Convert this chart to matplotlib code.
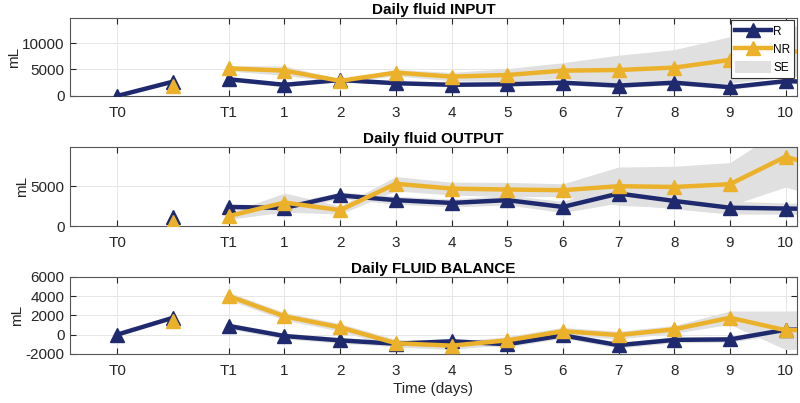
import numpy as np
import matplotlib
matplotlib.use("Agg")
import matplotlib.pyplot as plt
from matplotlib.patches import Patch
from matplotlib.lines import Line2D

# x positions: T0, unlabeled admission point, then T1 and days 1..11
x_pre = [-2, -1]
x_post = [0, 1, 2, 3, 4, 5, 6, 7, 8, 9, 10, 11]
tick_pos = [-2, 0, 1, 2, 3, 4, 5, 6, 7, 8, 9, 10]
tick_labels = ['T0', 'T1', '1', '2', '3', '4', '5', '6', '7', '8', '9', '10']

# Daily fluid INPUT
in_R_pre = [0, 2700]
in_NR_pre = [np.nan, 1950]
in_R = [3150, 2100, 3000, 2400, 2100, 2200, 2500, 1950, 2500, 1650, 2800, 2500]
in_NR = [5200, 4780, 2850, 4400, 3650, 3950, 4780, 4900, 5350, 6800, 8350, 8600]
in_R_se = [400, 400, 300, 300, 300, 300, 400, 400, 400, 400, 500, 500]
in_NR_se = [500, 900, 300, 600, 800, 1200, 1500, 2800, 3400, 4400, 4800, 4800]

# Daily fluid OUTPUT
out_R_pre = [np.nan, 1150]
out_NR_pre = [np.nan, 450]
out_R = [2400, 2270, 3850, 3250, 2900, 3250, 2400, 4080, 3150, 2300, 2200, 2100]
out_NR = [1250, 2950, 2000, 5300, 4700, 4580, 4500, 5000, 4900, 5250, 8700, 6600]
out_R_se = [300, 500, 400, 500, 500, 600, 700, 1200, 1000, 800, 700, 700]
out_NR_se = [400, 1200, 500, 900, 800, 900, 800, 2400, 2600, 2700, 3800, 3800]

# Daily FLUID BALANCE
bal_R_pre = [0, 1750]
bal_NR_pre = [np.nan, 1450]
bal_R = [900, -150, -600, -950, -700, -1000, -80, -1100, -550, -500, 500, 600]
bal_NR = [4000, 1900, 750, -900, -1150, -600, 350, -50, 550, 1750, 450, 550]
bal_R_se = [300, 300, 300, 300, 300, 300, 300, 300, 300, 300, 400, 400]
bal_NR_se = [400, 400, 400, 400, 400, 400, 400, 400, 400, 700, 2000, 2000]

c_R = '#1f2a6e'
c_NR = '#ebb12a'
c_se = '#e0e0e0'

plt.rcParams['font.family'] = ['Liberation Sans', 'DejaVu Sans']
plt.rcParams['axes.unicode_minus'] = False
fig = plt.figure(figsize=(8, 4.03), dpi=100)

panels = [
    ('Daily fluid INPUT', in_R_pre, in_NR_pre, in_R, in_NR, in_R_se, in_NR_se,
     (0, 14700), [0, 5000, 10000], [0.762, 0.955]),
    ('Daily fluid OUTPUT', out_R_pre, out_NR_pre, out_R, out_NR, out_R_se, out_NR_se,
     (0, 9900), [0, 5000], [0.439, 0.635]),
    ('Daily FLUID BALANCE', bal_R_pre, bal_NR_pre, bal_R, bal_NR, bal_R_se, bal_NR_se,
     (-2000, 6000), [-2000, 0, 2000, 4000, 6000], [0.122, 0.313]),
]

left, right = 0.0875, 0.996
for i, (title, rp, nrp, r, nr, rse, nrse, ylim, yt, (b, t)) in enumerate(panels):
    ax = fig.add_axes([left, b, right - left, t - b])
    r = np.array(r); nr = np.array(nr)
    rse = np.array(rse); nrse = np.array(nrse)
    ax.fill_between(x_post, nr - nrse, nr + nrse, color=c_se, lw=0, zorder=1)
    ax.fill_between(x_post, r - rse, r + rse, color=c_se, lw=0, zorder=1)
    kw = dict(lw=3.2, marker='^', ms=10, zorder=3)
    ax.plot(x_post, r, color=c_R, **kw)
    ax.plot(x_pre, rp, color=c_R, **kw)
    ax.plot(x_post, nr, color=c_NR, **kw)
    ax.plot(x_pre, nrp, color=c_NR, **kw)
    ax.set_xlim(-2.85, 10.2)
    ax.set_ylim(*ylim)
    ax.set_yticks(yt)
    ax.set_xticks(tick_pos)
    ax.set_xticklabels(tick_labels)
    ax.grid(True, color='#e6e6e6', lw=0.7, zorder=0)
    ax.set_axisbelow(True)
    ax.tick_params(direction='in', top=True, right=True, labelsize=11,
                   colors='#262626', length=4, width=0.8, pad=4)
    ax.tick_params(axis='x', pad=7)
    for s in ax.spines.values():
        s.set_color('#555555')
        s.set_linewidth(0.8)
    ax.set_title(title, fontsize=11, fontweight='bold', pad=3)
    ax.set_ylabel('mL', fontsize=11, color='#262626', labelpad=1)
    if i == 0:
        handles = [Line2D([], [], color=c_R, lw=3.2, marker='^', ms=10),
                   Line2D([], [], color=c_NR, lw=3.2, marker='^', ms=10),
                   Patch(facecolor=c_se, edgecolor='none')]
        leg = ax.legend(handles, ['R', 'NR', 'SE'], loc='upper right', fontsize=8.5,
                        handlelength=3.0, handleheight=1.2, handletextpad=0.2,
                        borderpad=0.35, labelspacing=0.45, fancybox=False,
                        framealpha=1, borderaxespad=0.2)
        leg.get_frame().set_edgecolor('#333333')
        leg.get_frame().set_linewidth(0.8)
    if i == 2:
        ax.set_xlabel('Time (days)', fontsize=11, color='#262626', labelpad=3)

fig.savefig('out.png', dpi=100)
